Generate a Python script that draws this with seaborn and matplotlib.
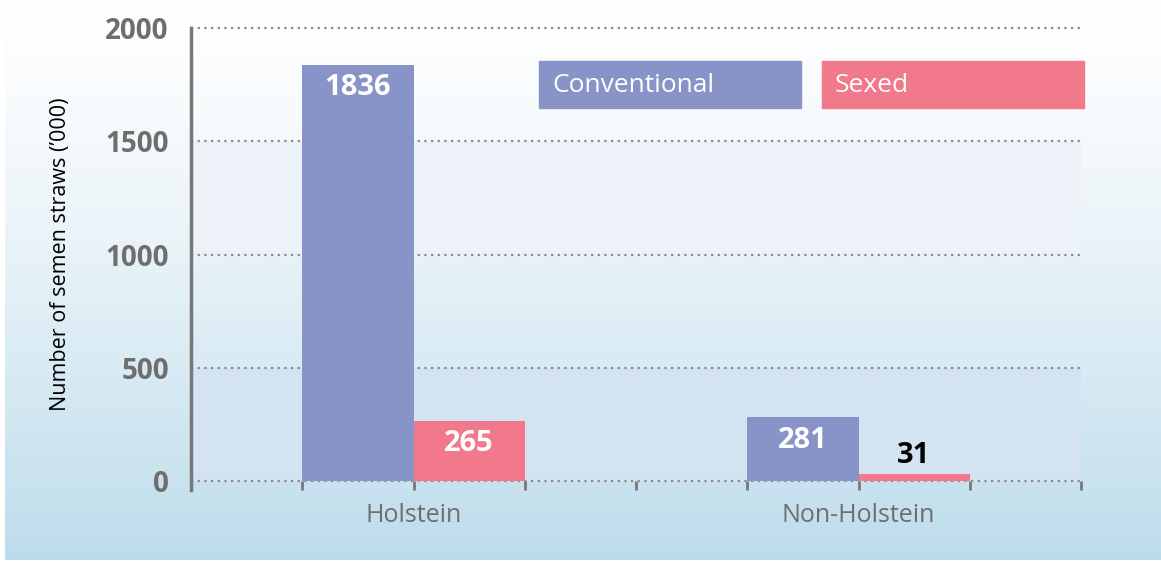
import numpy as np
import pandas as pd
import seaborn as sns
import matplotlib.pyplot as plt
from matplotlib.patches import Rectangle

# === DATA ===
breeds = ["Holstein", "Non-Holstein"]
semen_types = ["Conventional", "Sexed"]
conventional = [1836, 281]
sexed = [265, 31]

colors = {"Conventional": "#8893c8", "Sexed": "#f2788c"}
GREY = "#6e6e6e"

df = pd.DataFrame({
    "breed": breeds * 2,
    "type": ["Conventional"] * 2 + ["Sexed"] * 2,
    "straws": conventional + sexed,
})

sns.set_theme(style="white")
plt.rcParams["font.family"] = ["Open Sans", "DejaVu Sans"]

W, H = 1161, 565
fig = plt.figure(figsize=(W / 100, H / 100), dpi=100)

# === BACKGROUND GRADIENT ===
bg = fig.add_axes([5 / W, 5 / H, 1 - 5 / W, 1 - 5 / H], zorder=-10)
top = np.array([1.0, 1.0, 1.0])
bottom = np.array([0xbd, 0xdc, 0xeb]) / 255
t = np.linspace(0, 1, 256)[:, None] ** 1.3
grad = top * (1 - t) + bottom * t
bg.imshow(grad[:, None, :], aspect="auto", extent=[0, 1, 0, 1])
bg.axis("off")

# === MAIN AXES ===
ax = fig.add_axes([191 / W, 84 / H, (1081 - 191) / W, (481 - 28) / H])
ax.set_facecolor("none")

ax.axhspan(1000, 1500, color="#edf2f9", zorder=0, lw=0)
ax.axhspan(0, 500, color="#d4e3f2", zorder=0, lw=0)

sns.barplot(data=df, x="breed", y="straws", hue="type", order=breeds,
            hue_order=semen_types, palette=colors, width=0.5, gap=0,
            saturation=1, legend=False, linewidth=0, ax=ax, zorder=3)

ax.set_xlim(-0.5, 1.5)
ax.set_ylim(0, 2000)

for y in [0, 500, 1000, 1500, 2000]:
    ax.axhline(y, color="#8a8a8a", lw=1.6, ls=(0, (1, 2)), zorder=2,
               xmax=1.003, clip_on=False)

for side in ["top", "right", "bottom"]:
    ax.spines[side].set_visible(False)
ax.spines["left"].set_color("#777777")
ax.spines["left"].set_linewidth(2.5)
ax.spines["left"].set_bounds(-40, 2000)

xt = np.arange(-0.25, 1.51, 0.25)
ax.set_xticks(xt)
ax.set_xticklabels(["Holstein" if abs(v) < 1e-9 else
                    "Non-Holstein" if abs(v - 1) < 1e-9 else "" for v in xt])
ax.tick_params(axis="x", length=6.5, width=2, color="#777777",
               direction="out", pad=9, labelsize=18, labelcolor=GREY)
ax.tick_params(axis="x", bottom=True)

ax.set_yticks([0, 500, 1000, 1500, 2000])
ax.tick_params(axis="y", length=0, pad=16, labelsize=20, labelcolor=GREY)
for lab in ax.get_yticklabels():
    lab.set_fontweight("bold")

ax.set_xlabel("")
ax.set_ylabel("Number of semen straws (\u2019000)", fontsize=15.5,
              color="black")
ax.yaxis.set_label_coords((71 - 191) / (1081 - 191), 0.5)

# === BAR LABELS ===
for cont in ax.containers:
    for bar in cont:
        h = bar.get_height()
        cx = bar.get_x() + bar.get_width() / 2
        if h > 150:
            ax.annotate(f"{h:.0f}", (cx, h), xytext=(0, -6),
                        textcoords="offset points", ha="center", va="top",
                        color="white", fontsize=21, fontweight="bold", zorder=5)
        else:
            ax.annotate(f"{h:.0f}", (cx, h), xytext=(0, 3),
                        textcoords="offset points", ha="center", va="bottom",
                        color="black", fontsize=21, fontweight="bold", zorder=5)

# === LEGEND BOXES ===
for (x0, x1), name in zip([(539, 801), (822, 1084)], semen_types):
    fig.patches.append(Rectangle((x0 / W, 1 - 108 / H), (x1 - x0) / W,
                                 47 / H, transform=fig.transFigure,
                                 color=colors[name], zorder=5))
    fig.text((x0 + 13) / W, 1 - 85 / H, name, ha="left", va="center",
             color="white", fontsize=19, zorder=6)

fig.savefig("out.png", dpi=100)
